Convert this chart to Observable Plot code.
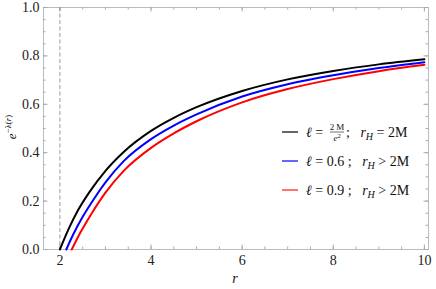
<!DOCTYPE html>
<html>
<head>
<meta charset="utf-8">
<script src="https://cdn.jsdelivr.net/npm/d3@7"></script>
<script src="https://cdn.jsdelivr.net/npm/@observablehq/plot@0.6"></script>
<style>
  body { margin: 0; background: #fff; }
  #chart svg { display: block; }
</style>
</head>
<body>
<div id="chart"></div>
<script>
// ---- data ----
const rBlack = [2.0, 2.2, 2.4, 2.64, 3.0, 3.4, 4.0, 4.5, 5.0, 6.0, 7.0, 8.0, 9.0, 10.0];
const vBlack = [0.0, 0.088, 0.163, 0.235, 0.325, 0.403, 0.49, 0.544, 0.588, 0.655, 0.703, 0.738, 0.765, 0.786];
const rBlue  = [2.14, 2.3, 2.5, 2.75, 3.0, 3.4, 4.0, 4.5, 5.0, 6.0, 7.0, 8.0, 9.0, 10.0];
const vBlue  = [0.0, 0.065, 0.135, 0.21, 0.277, 0.365, 0.456, 0.512, 0.558, 0.632, 0.683, 0.72, 0.75, 0.774];
const rRed   = [2.26, 2.45, 2.7, 3.0, 3.4, 4.0, 4.5, 5.0, 6.0, 7.0, 8.0, 9.0, 10.0];
const vRed   = [0.0, 0.07, 0.15, 0.235, 0.325, 0.42, 0.48, 0.53, 0.608, 0.663, 0.704, 0.737, 0.763];
const horizonR = [2];
const xTicks = [2, 4, 6, 8, 10];
const yTicks = [0, 0.2, 0.4, 0.6, 0.8, 1.0];
const yTickLabels = ["0.0", "0.2", "0.4", "0.6", "0.8", "1.0"];
const xMinor = d3.range(2, 10.001, 0.5);
const yMinor = d3.range(0, 1.0001, 0.05);

const toRows = (rs, vs) => rs.map((r, i) => ({r, v: vs[i]}));
const black = toRows(rBlack, vBlack);
const blue = toRows(rBlue, vBlue);
const red = toRows(rRed, vRed);

const W = 436, H = 289, mL = 43, mR = 8, mT = 7, mB = 40;
const iW = W - mL - mR, iH = H - mT - mB;
const tickCol = "#aaa";

const plot = Plot.plot({
  width: W, height: H,
  marginLeft: mL, marginRight: mR, marginTop: mT, marginBottom: mB,
  style: {fontFamily: "Liberation Serif", fontSize: "14px", background: "#fff"},
  x: {domain: [1.64, 10.09]},
  y: {domain: [0, 1]},
  marks: [
    Plot.frame({stroke: "#bbb"}),
    Plot.tickX(xMinor, {x: d => d, stroke: tickCol, insetTop: iH - 2.5}),
    Plot.tickX(xTicks, {x: d => d, stroke: tickCol, insetTop: iH - 4.5}),
    Plot.tickX(xMinor, {x: d => d, stroke: tickCol, insetBottom: iH - 2.5}),
    Plot.tickX(xTicks, {x: d => d, stroke: tickCol, insetBottom: iH - 4.5}),
    Plot.tickY(yMinor, {y: d => d, stroke: tickCol, insetRight: iW - 2.5}),
    Plot.tickY(yTicks, {y: d => d, stroke: tickCol, insetRight: iW - 4.5}),
    Plot.tickY(yMinor, {y: d => d, stroke: tickCol, insetLeft: iW - 2.5}),
    Plot.tickY(yTicks, {y: d => d, stroke: tickCol, insetLeft: iW - 4.5}),
    Plot.axisX({ticks: xTicks, tickSize: 0, tickPadding: 6, label: null, fill: "#222", fontSize: 14}),
    Plot.axisY({ticks: yTicks, tickSize: 0, tickPadding: 4, label: null, fill: "#222", fontSize: 14,
      tickFormat: d => yTickLabels[yTicks.indexOf(d)]}),
    Plot.ruleX(horizonR, {stroke: "#999", strokeDasharray: "4,2.5", strokeWidth: 1}),
    Plot.line(black, {x: "r", y: "v", stroke: "#000", strokeWidth: 2, curve: "monotone-x"}),
    Plot.line(blue, {x: "r", y: "v", stroke: "#0000ff", strokeWidth: 2, curve: "monotone-x"}),
    Plot.line(red, {x: "r", y: "v", stroke: "#ff0000", strokeWidth: 2, curve: "monotone-x"})
  ]
});
document.getElementById("chart").appendChild(plot);

const svg = d3.select(plot);
const g = svg.append("g").attr("font-family", "Liberation Serif").attr("fill", "#111")
  .attr("text-anchor", "start");

// axis titles
g.append("text").attr("x", 235).attr("y", 283).attr("text-anchor", "middle")
  .attr("font-size", 14).attr("font-style", "italic").text("r");
const yl = g.append("text").attr("transform", "translate(16,127) rotate(-90)")
  .attr("text-anchor", "middle").attr("font-size", 13);
yl.append("tspan").attr("font-style", "italic").text("e");
yl.append("tspan").attr("font-size", 9).attr("dy", -5).text("−λ(");
yl.append("tspan").attr("font-size", 9).attr("font-style", "italic").text("r");
yl.append("tspan").attr("font-size", 9).text(")");

// legend
const legendRows = [
  {y: 132, color: "#333", kind: "frac", rest: "= 2M"},
  {y: 161, color: "#3333ff", kind: "num", value: "0.6", rest: "> 2M"},
  {y: 190, color: "#ff4444", kind: "num", value: "0.9", rest: "> 2M"}
];
function addRH(t, rel) {
  t.append("tspan").attr("font-style", "italic").text("r");
  t.append("tspan").attr("font-style", "italic").attr("font-size", 10).attr("dy", 3).text("H");
  t.append("tspan").attr("dy", -3).text("\u00a0" + rel);
}
legendRows.forEach(row => {
  g.append("line").attr("x1", 282).attr("x2", 298).attr("y1", row.y).attr("y2", row.y)
    .attr("stroke", row.color).attr("stroke-width", 1.5);
  const by = row.y + 4.5;
  if (row.kind === "num") {
    const t = g.append("text").attr("x", 306).attr("y", by).attr("font-size", 14);
    t.append("tspan").attr("font-style", "italic").text("ℓ");
    t.append("tspan").text("\u00a0=\u00a0" + row.value + "\u00a0;\u00a0\u00a0\u00a0");
    addRH(t, row.rest);
  } else {
    const t = g.append("text").attr("x", 306).attr("y", by).attr("font-size", 14);
    t.append("tspan").attr("font-style", "italic").text("ℓ");
    t.append("tspan").text("\u00a0=");
    g.append("text").attr("x", 337).attr("y", row.y - 2).attr("text-anchor", "middle")
      .attr("font-size", 9).text("2\u2009M");
    g.append("line").attr("x1", 330).attr("x2", 344).attr("y1", row.y).attr("y2", row.y)
      .attr("stroke", "#111").attr("stroke-width", 0.6);
    const d = g.append("text").attr("x", 337).attr("y", row.y + 8.5).attr("text-anchor", "middle")
      .attr("font-size", 9);
    d.append("tspan").attr("font-style", "italic").text("e");
    d.append("tspan").attr("font-size", 6.5).attr("dy", -3).text("2");
    const t2 = g.append("text").attr("x", 346).attr("y", by).attr("font-size", 14);
    t2.append("tspan").text(";\u00a0\u00a0\u00a0");
    addRH(t2, row.rest);
  }
});
</script>
</body>
</html>
